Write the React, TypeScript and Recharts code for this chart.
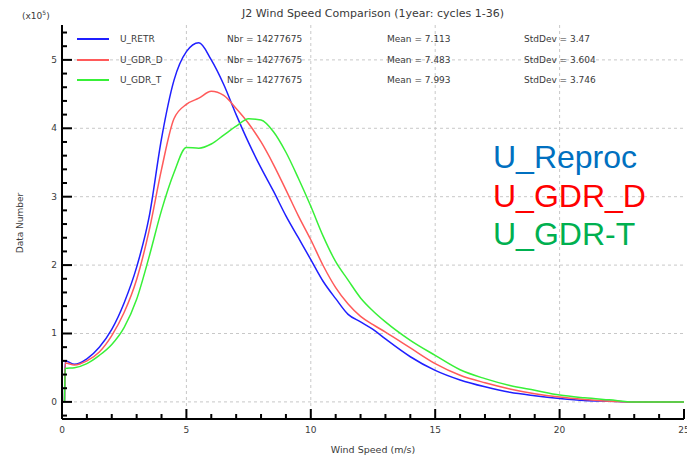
import { LineChart, Line, XAxis, YAxis, CartesianGrid } from 'recharts';

// wind speed (m/s) sample points
const windSpeed = [0.1, 0.13, 0.5, 1, 1.5, 2, 2.5, 3, 3.5, 4, 4.5, 5, 5.5, 6, 6.5, 7, 7.5, 8, 8.5, 9, 9.5, 10, 10.5, 11, 11.5, 12, 12.5, 13, 14, 15, 16, 17, 18, 19, 20, 21, 22, 23, 24, 25];

// counts in units of 10^5
const uRetr = [0, 0.6, 0.55, 0.63, 0.8, 1.06, 1.45, 1.97, 2.7, 3.85, 4.7, 5.12, 5.25, 5.0, 4.64, 4.2, 3.79, 3.42, 3.08, 2.72, 2.4, 2.08, 1.76, 1.51, 1.28, 1.17, 1.06, 0.92, 0.66, 0.46, 0.32, 0.22, 0.14, 0.09, 0.05, 0.02, 0.01, 0, 0, 0];
const uGdrD = [0, 0.57, 0.54, 0.6, 0.73, 0.97, 1.31, 1.79, 2.5, 3.4, 4.14, 4.35, 4.44, 4.54, 4.48, 4.29, 4.07, 3.8, 3.47, 3.1, 2.72, 2.37, 1.99, 1.67, 1.43, 1.25, 1.13, 1.02, 0.79, 0.56, 0.39, 0.28, 0.19, 0.12, 0.07, 0.035, 0.01, 0, 0, 0];
const uGdrT = [0, 0.49, 0.5, 0.56, 0.68, 0.84, 1.09, 1.5, 2.12, 2.8, 3.35, 3.72, 3.71, 3.77, 3.9, 4.03, 4.14, 4.12, 3.95, 3.65, 3.27, 2.86, 2.42, 2.05, 1.78, 1.52, 1.33, 1.17, 0.9, 0.68, 0.47, 0.34, 0.24, 0.17, 0.1, 0.06, 0.03, 0, 0, 0];

const seriesKeys = ['retr', 'gdrD', 'gdrT'];
const seriesNames = ['U_RETR', 'U_GDR_D', 'U_GDR_T'];
const seriesColors = ['#1f1fff', '#ff5a5a', '#38f038'];
const nbr = ['14277675', '14277675', '14277675'];
const means = ['7.113', '7.483', '7.993'];
const stdDevs = ['3.47', '3.604', '3.746'];

const bigLabels = ['U_Reproc', 'U_GDR_D', 'U_GDR-T'];
const bigColors = ['#0070c0', '#ff0000', '#00b050'];

const xMajor = [0, 5, 10, 15, 20, 25];
const yMajor = [0, 1, 2, 3, 4, 5];
const xTicks = Array.from({ length: 26 }, (_, i) => i);
const yTicks = Array.from({ length: 29 }, (_, i) => Math.round((i - 1) * 2) / 10);

const data = windSpeed.map((x, i) => ({ x, retr: uRetr[i], gdrD: uGdrD[i], gdrT: uGdrT[i] }));

const isMajor = (v: number) => Math.abs(v - Math.round(v)) < 1e-6;
const AXIS = 'black';
const TXT = '#3a3a3a';

// tick marks point into the plot, like the original frame
const LeftTick = (props: any) => {
  const { x, y, payload } = props;
  const major = isMajor(payload.value);
  return (
    <g>
      <rect x={x} y={y - 1} width={major ? 10 : 5} height={2} fill={AXIS} />
      {major && (
        <text x={x - 5} y={y + 3} textAnchor="end" fontSize={9} fill={TXT}>
          {Math.round(payload.value)}
        </text>
      )}
    </g>
  );
};

const RightTick = (props: any) => {
  const { x, y, payload } = props;
  const len = isMajor(payload.value) ? 10 : 5;
  return (
    <g>
      <rect x={x - len} y={y - 1} width={len} height={2} fill={AXIS} />
    </g>
  );
};

const BottomTick = (props: any) => {
  const { x, y, payload } = props;
  const len = payload.value % 5 === 0 ? 10 : 5;
  return (
    <g>
      <rect x={x - 1} y={y - len} width={2} height={len} fill={AXIS} />
      {len === 10 && (
        <text x={x} y={y + 14} textAnchor="middle" fontSize={9} fill={TXT}>
          {payload.value}
        </text>
      )}
    </g>
  );
};

const TopTick = (props: any) => {
  const { x, y, payload } = props;
  const len = payload.value % 5 === 0 ? 10 : 5;
  return (
    <g>
      <rect x={x - 1} y={y} width={2} height={len} fill={AXIS} />
    </g>
  );
};

export default function App() {
  return (
    <div
      style={{
        position: 'absolute',
        left: 0,
        top: 0,
        width: 687,
        height: 456,
        background: '#fff',
        fontFamily: '"DejaVu Sans", sans-serif',
      }}
    >
      <LineChart width={687} height={456} data={data} margin={{ top: 25, right: 3, bottom: 0, left: 2 }}>
        <CartesianGrid
          xAxisId="bottom"
          yAxisId="left"
          stroke="#c8c8c8"
          strokeDasharray="3 3"
          horizontalValues={yMajor}
          verticalValues={xMajor.slice(1, -1)}
        />
        <XAxis
          xAxisId="bottom"
          dataKey="x"
          type="number"
          domain={[0, 25]}
          ticks={xTicks}
          interval={0}
          height={37}
          tickSize={0}
          tickMargin={0}
          tickLine={false}
          axisLine={{ stroke: AXIS, strokeWidth: 2 }}
          tick={<BottomTick />}
        />
        <XAxis
          xAxisId="top"
          orientation="top"
          type="number"
          domain={[0, 25]}
          ticks={xTicks}
          interval={0}
          height={0}
          tickSize={0}
          tickMargin={0}
          tickLine={false}
          axisLine={{ stroke: AXIS, strokeWidth: 2 }}
          tick={<TopTick />}
        />
        <YAxis
          yAxisId="left"
          type="number"
          domain={[-0.25, 5.51]}
          ticks={yTicks}
          interval={0}
          width={60}
          tickSize={0}
          tickMargin={0}
          tickLine={false}
          axisLine={{ stroke: AXIS, strokeWidth: 2 }}
          tick={<LeftTick />}
        />
        <YAxis
          yAxisId="right"
          orientation="right"
          type="number"
          domain={[-0.25, 5.51]}
          ticks={yTicks}
          interval={0}
          width={0}
          tickSize={0}
          tickMargin={0}
          tickLine={false}
          axisLine={{ stroke: AXIS, strokeWidth: 2 }}
          tick={<RightTick />}
        />
        {seriesKeys.map((k, i) => (
          <Line
            key={k}
            xAxisId="bottom"
            yAxisId="left"
            dataKey={k}
            type="monotone"
            stroke={seriesColors[i]}
            strokeWidth={1.5}
            dot={false}
            isAnimationActive={false}
          />
        ))}
      </LineChart>

      {/* title and axis captions */}
      <div style={{ position: 'absolute', left: 62, width: 622, top: 8, fontSize: 11, lineHeight: '12px', textAlign: 'center', color: TXT }}>
        J2 Wind Speed Comparison (1year: cycles 1-36)
      </div>
      <div style={{ position: 'absolute', left: 22, top: 7, fontSize: 9, lineHeight: '12px', color: TXT }}>
        (x10<sup style={{ fontSize: 6 }}>5</sup>)
      </div>
      <div
        style={{
          position: 'absolute',
          left: 20,
          top: 223,
          fontSize: 9,
          lineHeight: '10px',
          color: TXT,
          whiteSpace: 'nowrap',
          transform: 'translate(-50%, -50%) rotate(-90deg)',
        }}
      >
        Data Number
      </div>
      <div style={{ position: 'absolute', left: 62, width: 622, top: 444, fontSize: 9.5, lineHeight: '11px', textAlign: 'center', color: TXT }}>
        Wind Speed (m/s)
      </div>

      {/* in-plot legend */}
      {seriesNames.map((name, i) => {
        const top = 39 + i * 20.5;
        const cell = { position: 'absolute' as const, top: top - 6, fontSize: 9, lineHeight: '12px', color: TXT, whiteSpace: 'nowrap' as const };
        return (
          <div key={name}>
            <div style={{ position: 'absolute', left: 77, width: 32, top: top - 1, height: 2, background: seriesColors[i] }} />
            <div style={{ ...cell, left: 120 }}>{name}</div>
            <div style={{ ...cell, left: 227 }}>Nbr = {nbr[i]}</div>
            <div style={{ ...cell, left: 387 }}>Mean = {means[i]}</div>
            <div style={{ ...cell, left: 524 }}>StdDev = {stdDevs[i]}</div>
          </div>
        );
      })}

      {/* large annotation */}
      {bigLabels.map((t, i) => (
        <div
          key={t}
          style={{
            position: 'absolute',
            left: 493,
            top: 141 + i * 38.5,
            fontFamily: '"Liberation Sans", Arial, sans-serif',
            fontSize: 32,
            lineHeight: '32px',
            color: bigColors[i],
            whiteSpace: 'nowrap',
          }}
        >
          {t}
        </div>
      ))}
    </div>
  );
}
